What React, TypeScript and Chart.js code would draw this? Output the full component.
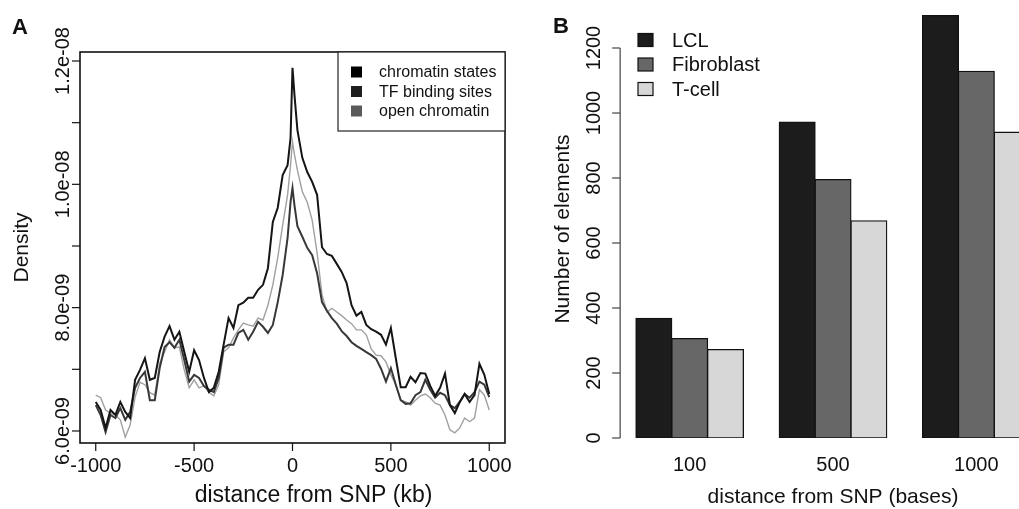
import React, { useEffect, useRef } from "react";
import { Chart, registerables } from "chart.js";

Chart.register(...registerables);

// ---------- Panel A data (density in units of 1e-9) ----------
const distanceKb = [
  -1000, -975, -950, -925, -900, -875, -850, -825, -800, -775,
  -750, -725, -700, -675, -650, -625, -600, -575, -550, -525,
  -500, -475, -450, -425, -400, -375, -350, -325, -300, -275,
  -250, -225, -200, -175, -150, -125, -100, -75, -50, -25,
  -10, 0, 10,
  25, 50, 75, 100, 125, 150, 175, 200, 225, 250,
  275, 300, 325, 350, 375, 400, 425, 450, 475, 500,
  525, 550, 575, 600, 625, 650, 675, 700, 725, 750,
  775, 800, 825, 850, 875, 900, 925, 950, 975, 1000,
];

const chromatinStates = [
  6.47, 6.34, 6.05, 6.34, 6.26, 6.47, 6.31, 6.21, 6.83, 6.99,
  7.18, 6.83, 6.86, 7.28, 7.53, 7.70, 7.48, 7.61, 7.28, 6.96,
  7.31, 7.15, 6.86, 6.63, 6.70, 6.96, 7.40, 7.83, 7.67, 8.04,
  8.08, 8.16, 8.16, 8.29, 8.37, 8.64, 9.39, 9.62, 10.15, 10.31,
  10.75, 11.89, 11.45,
  10.88, 10.43, 10.20, 10.04, 9.83, 8.98, 8.87, 8.84, 8.71, 8.58,
  8.40, 8.04, 7.87, 7.93, 7.72, 7.65, 7.61, 7.56, 7.40, 7.67,
  7.18, 6.71, 6.71, 6.88, 6.79, 6.94, 6.93, 6.73, 6.57, 6.70,
  6.93, 6.42, 6.29, 6.47, 6.60, 6.47, 6.58, 7.09, 6.91, 6.60,
];

const tfBindingSites = [
  6.42, 6.26, 5.98, 6.26, 6.21, 6.37, 6.18, 6.31, 6.70, 6.86,
  6.96, 6.50, 6.50, 7.02, 7.36, 7.44, 7.35, 7.48, 7.15, 6.80,
  6.91, 6.86, 6.73, 6.67, 6.63, 6.86, 7.35, 7.40, 7.40, 7.59,
  7.64, 7.48, 7.61, 7.77, 7.69, 7.59, 7.72, 8.09, 8.53, 9.13,
  9.71, 9.94, 9.66,
  9.32, 9.15, 8.97, 8.85, 8.56, 8.09, 7.95, 7.83, 7.74, 7.62,
  7.54, 7.44, 7.38, 7.33, 7.28, 7.23, 7.17, 7.01, 6.80, 7.02,
  6.75, 6.50, 6.44, 6.45, 6.58, 6.63, 6.83, 6.67, 6.54, 6.62,
  6.58, 6.42, 6.37, 6.47, 6.60, 6.54, 6.63, 6.80, 6.75, 6.55,
];

const openChromatin = [
  6.58, 6.54, 6.34, 6.29, 6.26, 6.18, 5.90, 6.10, 6.55, 6.79,
  6.75, 6.62, 6.58, 7.10, 7.28, 7.48, 7.35, 7.36, 6.99, 6.70,
  6.83, 6.70, 6.73, 6.63, 6.57, 6.75, 7.28, 7.35, 7.51, 7.64,
  7.75, 7.72, 7.70, 7.83, 7.80, 8.04, 8.37, 8.81, 9.34, 9.83,
  10.31, 10.69, 10.48,
  10.23, 9.88, 9.71, 9.42, 8.89, 8.21, 7.93, 7.99, 7.93, 7.87,
  7.80, 7.74, 7.64, 7.64, 7.56, 7.33, 7.23, 7.22, 7.12, 6.91,
  6.75, 6.50, 6.47, 6.42, 6.50, 6.57, 6.60, 6.54, 6.45, 6.42,
  6.26, 6.02, 5.97, 6.05, 6.21, 6.15, 6.21, 6.67, 6.58, 6.34,
];

const distanceTicks = [-1000, -500, 0, 500, 1000];
const densityTickMarks = [6, 7, 8, 9, 10, 11, 12];
const densityLabelValues = [6, 8, 10, 12];
const densityLabelText = ["6.0e-09", "8.0e-09", "1.0e-08", "1.2e-08"];
const legendALabels = ["chromatin states", "TF binding sites", "open chromatin"];
const legendAColors = ["#000000", "#1e1e1e", "#5a5a5a"];

// ---------- Panel B data ----------
const distanceBases = ["100", "500", "1000"];
const lclCounts = [368, 972, 1300];
const fibroblastCounts = [306, 795, 1128];
const tcellCounts = [272, 668, 941];
const countTicks = [0, 200, 400, 600, 800, 1000, 1200];
const legendBLabels = ["LCL", "Fibroblast", "T-cell"];
const barColors = ["#1c1c1c", "#676767", "#d7d7d7"];

const FONT = '"Liberation Sans", Arial, Helvetica, sans-serif';

function vText(ctx: CanvasRenderingContext2D, text: string, x: number, y: number) {
  ctx.save();
  ctx.translate(x, y);
  ctx.rotate(-Math.PI / 2);
  ctx.textAlign = "center";
  ctx.textBaseline = "alphabetic";
  ctx.fillText(text, 0, 0);
  ctx.restore();
}

const panelAPlugin = {
  id: "panelA",
  afterDraw(chart: any) {
    const ctx: CanvasRenderingContext2D = chart.ctx;
    const { left, right, top, bottom } = chart.chartArea;
    const xs = chart.scales.x;
    const ys = chart.scales.y;
    ctx.save();
    ctx.strokeStyle = "#111";
    ctx.fillStyle = "#111";
    ctx.lineWidth = 1.6;
    ctx.strokeRect(left, top, right - left, bottom - top);

    ctx.lineWidth = 1.2;
    ctx.font = `20px ${FONT}`;
    ctx.textAlign = "center";
    ctx.textBaseline = "middle";
    distanceTicks.forEach((v) => {
      const px = xs.getPixelForValue(v);
      ctx.beginPath();
      ctx.moveTo(px, bottom);
      ctx.lineTo(px, bottom + 8);
      ctx.stroke();
      ctx.fillText(String(v), px, bottom + 23);
    });
    densityTickMarks.forEach((v) => {
      const py = ys.getPixelForValue(v);
      ctx.beginPath();
      ctx.moveTo(left - 8, py);
      ctx.lineTo(left, py);
      ctx.stroke();
    });
    densityLabelValues.forEach((v, i) => {
      vText(ctx, densityLabelText[i], left - 11, ys.getPixelForValue(v));
    });

    ctx.font = `23px ${FONT}`;
    ctx.textAlign = "center";
    ctx.textBaseline = "alphabetic";
    ctx.fillText("distance from SNP (kb)", (left + right) / 2 + 21, 502);
    ctx.font = `21px ${FONT}`;
    vText(ctx, "Density", 28, (top + bottom) / 2);

    ctx.font = `bold 22px ${FONT}`;
    ctx.textAlign = "left";
    ctx.fillText("A", 12, 34);

    // legend
    const lx = 338;
    ctx.lineWidth = 1.2;
    ctx.strokeStyle = "#222";
    ctx.fillStyle = "#fff";
    ctx.fillRect(lx, top, right - lx, 79);
    ctx.strokeRect(lx, top, right - lx, 79);
    ctx.font = `16px ${FONT}`;
    ctx.textBaseline = "middle";
    const rows = [72, 91.5, 111];
    legendALabels.forEach((lab, i) => {
      ctx.fillStyle = legendAColors[i];
      ctx.fillRect(351, rows[i] - 5.5, 11, 11);
      ctx.fillStyle = "#111";
      ctx.fillText(lab, 379, rows[i] + 1);
    });
    ctx.restore();
  },
};

const panelBPlugin = {
  id: "panelB",
  afterDraw(chart: any) {
    const ctx: CanvasRenderingContext2D = chart.ctx;
    const { left, right } = chart.chartArea;
    const xs = chart.scales.x;
    const ys = chart.scales.y;
    const W = (right - left) / 3;
    const axisX = left + 0.015 * W;
    ctx.save();
    ctx.strokeStyle = "#444";
    ctx.fillStyle = "#111";
    ctx.lineWidth = 1.2;
    ctx.beginPath();
    ctx.moveTo(axisX, ys.getPixelForValue(countTicks[0]));
    ctx.lineTo(axisX, ys.getPixelForValue(countTicks[countTicks.length - 1]));
    ctx.stroke();
    ctx.font = `20px ${FONT}`;
    countTicks.forEach((v) => {
      const py = ys.getPixelForValue(v);
      ctx.beginPath();
      ctx.moveTo(axisX - 8, py);
      ctx.lineTo(axisX, py);
      ctx.stroke();
      vText(ctx, String(v), axisX - 20, py);
    });
    ctx.textAlign = "center";
    ctx.textBaseline = "middle";
    distanceBases.forEach((lab, i) => {
      ctx.fillText(lab, xs.getPixelForValue(i), 465);
    });
    ctx.font = `21px ${FONT}`;
    ctx.textBaseline = "alphabetic";
    ctx.fillText("distance from SNP (bases)", (left + right) / 2, 503);
    vText(ctx, "Number of elements", 49, 229);

    ctx.font = `bold 22px ${FONT}`;
    ctx.textAlign = "left";
    ctx.fillText("B", 33, 33);

    // legend
    ctx.font = `20px ${FONT}`;
    ctx.textBaseline = "middle";
    const rows = [40, 64.5, 89];
    legendBLabels.forEach((lab, i) => {
      ctx.fillStyle = barColors[i];
      ctx.fillRect(118, rows[i] - 6.5, 15, 13);
      ctx.strokeStyle = "#111";
      ctx.lineWidth = 1.2;
      ctx.strokeRect(118, rows[i] - 6.5, 15, 13);
      ctx.fillStyle = "#111";
      ctx.fillText(lab, 152, rows[i] + 1);
    });
    ctx.restore();
  },
};

function PanelA() {
  const ref = useRef<HTMLCanvasElement>(null);
  useEffect(() => {
    if (!ref.current) return;
    const mk = (vals: number[]) => distanceKb.map((x, i) => ({ x, y: vals[i] }));
    const chart = new Chart(ref.current, {
      type: "line",
      data: {
        datasets: [
          { label: legendALabels[0], data: mk(chromatinStates), borderColor: "#151515", borderWidth: 2 },
          { label: legendALabels[1], data: mk(tfBindingSites), borderColor: "#383838", borderWidth: 2 },
          { label: legendALabels[2], data: mk(openChromatin), borderColor: "#a0a0a0", borderWidth: 1.4 },
        ].map((d) => ({ ...d, pointRadius: 0, tension: 0, fill: false })),
      },
      options: {
        responsive: false,
        animation: false,
        devicePixelRatio: 1,
        layout: { padding: { left: 80, right: 15, top: 52, bottom: 66 } },
        plugins: { legend: { display: false }, tooltip: { enabled: false } },
        scales: {
          x: { type: "linear", min: -1080, max: 1080, display: false },
          y: { type: "linear", min: 5.805, max: 12.146, display: false },
        },
      },
      plugins: [panelAPlugin],
    } as any);
    return () => chart.destroy();
  }, []);
  return (
    <canvas
      ref={ref}
      width={520}
      height={509}
      style={{ position: "absolute", left: 0, top: 0, width: 520, height: 509 }}
    />
  );
}

function PanelB() {
  const ref = useRef<HTMLCanvasElement>(null);
  useEffect(() => {
    if (!ref.current) return;
    const series = [lclCounts, fibroblastCounts, tcellCounts];
    const chart = new Chart(ref.current, {
      type: "bar",
      data: {
        labels: distanceBases,
        datasets: series.map((s, i) => ({
          label: legendBLabels[i],
          data: s,
          backgroundColor: barColors[i],
          borderColor: "#111",
          borderWidth: 1.3,
          borderSkipped: false,
          inflateAmount: 0.6,
          barPercentage: 1,
          categoryPercentage: 0.75,
        })),
      },
      options: {
        responsive: false,
        animation: false,
        devicePixelRatio: 1,
        layout: { padding: { left: 98, right: 12, top: 9, bottom: 71 } },
        plugins: { legend: { display: false }, tooltip: { enabled: false } },
        scales: {
          x: { type: "category", display: false },
          y: { type: "linear", min: 0, max: 1320, display: false },
        },
      },
      plugins: [panelBPlugin],
    } as any);
    return () => chart.destroy();
  }, []);
  return (
    <canvas
      ref={ref}
      width={540}
      height={509}
      style={{ position: "absolute", left: 520, top: 0, width: 540, height: 509 }}
    />
  );
}

export default function App() {
  return (
    <div
      style={{
        position: "fixed",
        left: 0,
        top: 0,
        width: 1019,
        height: 509,
        overflow: "hidden",
        background: "#fff",
      }}
    >
      <PanelA />
      <PanelB />
    </div>
  );
}
